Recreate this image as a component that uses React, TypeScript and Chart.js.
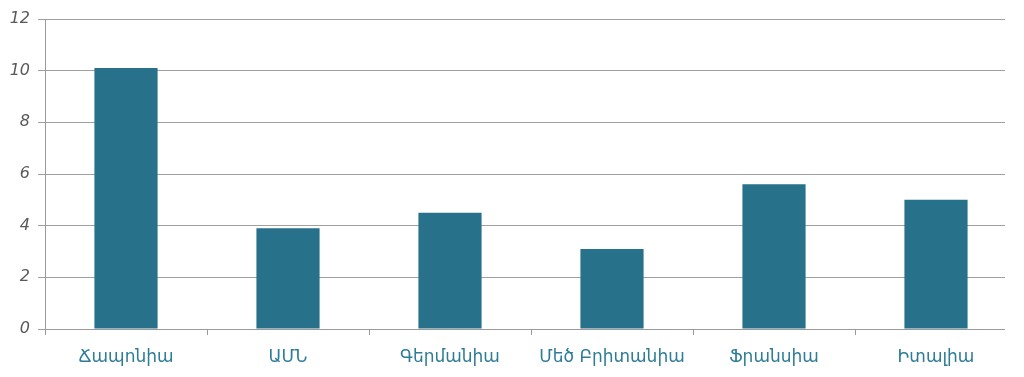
import React, { useEffect, useRef } from "react";
import { Chart, registerables } from "chart.js";

Chart.register(...registerables);

const categories = ["Ճապոնիա", "ԱՄՆ", "Գերմանիա", "Մեծ Բրիտանիա", "Ֆրանսիա", "Իտալիա"];
const values = [10.1, 3.9, 4.5, 3.1, 5.6, 5.0];
const yTicks = [0, 2, 4, 6, 8, 10, 12];

const clipRight = {
  id: "clipRight",
  beforeDraw(chart: any) {
    const ctx = chart.ctx;
    ctx.save();
    ctx.beginPath();
    ctx.rect(0, 0, chart.chartArea.right - 12, chart.height);
    ctx.clip();
  },
  afterDraw(chart: any) {
    chart.ctx.restore();
  },
};

export default function App() {
  const ref = useRef<HTMLCanvasElement | null>(null);
  useEffect(() => {
    if (!ref.current) return;
    const chart = new Chart(ref.current, {
      type: "bar",
      data: {
        labels: categories,
        datasets: [
          {
            data: values,
            backgroundColor: "#27718b",
            barPercentage: 0.39,
            categoryPercentage: 1,
          },
        ],
      },
      plugins: [clipRight],
      options: {
        animation: false,
        responsive: false,
        maintainAspectRatio: false,
        layout: { padding: { top: 19, right: 7, left: 0, bottom: 0 } },
        plugins: { legend: { display: false }, tooltip: { enabled: false } },
        scales: {
          x: {
            offset: true,
            afterFit: (s: any) => {
              s.height = 48;
            },
            grid: {
              offset: true,
              drawOnChartArea: false,
              drawTicks: true,
              tickLength: 6,
              color: "#9a9a9a",
            },
            border: { display: true, color: "#9a9a9a", width: 1 },
            ticks: {
              color: "#2e7d96",
              font: { family: "DejaVu Sans", size: 17 },
              padding: 12,
              maxRotation: 0,
              autoSkip: false,
            },
          },
          y: {
            min: 0,
            max: 12,
            afterFit: (s: any) => {
              s.width = 45;
            },
            afterBuildTicks: (s: any) => {
              s.ticks = yTicks.map((v) => ({ value: v }));
            },
            grid: {
              color: "#a0a0a0",
              drawTicks: true,
              tickLength: 7,
              lineWidth: 1,
            },
            border: { display: true, color: "#9a9a9a", width: 1 },
            ticks: {
              color: "#595959",
              font: { family: "DejaVu Sans", size: 16, style: "italic" },
              padding: 8,
            },
          },
        },
      },
    });
    return () => chart.destroy();
  }, []);
  return (
    <div style={{ position: "fixed", left: 0, top: 0, width: 1024, height: 377, background: "#fff" }}>
      <canvas ref={ref} width={1024} height={377} style={{ width: 1024, height: 377 }} />
    </div>
  );
}
